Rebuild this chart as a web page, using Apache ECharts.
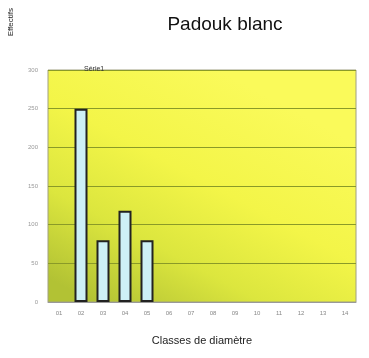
<!DOCTYPE html>
<html><head><meta charset="utf-8">
<script src="https://cdn.jsdelivr.net/npm/echarts@6/dist/echarts.min.js"></script>
<style>html,body{margin:0;padding:0;background:#fff}#c{width:369px;height:358px}</style>
</head><body><div id="c"></div>
<script>
const categories = ["01","02","03","04","05","06","07","08","09","10","11","12","13","14"];
const values = [null, 250, 80, 118, 80, null, null, null, null, null, null, null, null, null];
const seriesName = "Série1";
const titleText = "Padouk blanc";
const xName = "Classes de diamètre";
const yName = "Effectifs";

const chart = echarts.init(document.getElementById('c'));
chart.setOption({
  animation: false,
  backgroundColor: '#fff',
  title: { text: titleText, left: 220, top: 10, textAlign: 'center',
    textStyle: { fontFamily: 'Liberation Sans', fontWeight: 'normal', fontSize: 19, color: '#111' } },
  legend: { data: [seriesName], left: 78, top: 66, itemWidth: 0, itemHeight: 0, padding: 0,
    textStyle: { fontSize: 7, color: '#333' } },
  graphic: [{ type: 'text', left: 7, top: 8, rotation: Math.PI / 2,
    style: { text: yName, fontSize: 8, fill: '#222' } }],
  grid: { left: 48, right: 13, top: 70, bottom: 56,
    show: true, borderColor: '#a0a080', borderWidth: 1,
    backgroundColor: new echarts.graphic.LinearGradient(0.15, 1, 0.55, 0, [
      { offset: 0, color: '#b2c234' },
      { offset: 0.3, color: '#dce63e' },
      { offset: 0.6, color: '#f3f548' },
      { offset: 1, color: '#fafa5a' }
    ]) },
  xAxis: { type: 'category', data: categories, name: xName, nameLocation: 'middle', nameGap: 33,
    nameTextStyle: { fontFamily: 'Liberation Sans', fontSize: 11, color: '#222' },
    axisLine: { lineStyle: { color: '#999' } }, axisTick: { show: false },
    axisLabel: { fontSize: 6, color: '#888', margin: 8 } },
  yAxis: { type: 'value', min: 0, max: 300, interval: 50,
    axisLine: { show: false }, axisTick: { show: false },
    axisLabel: { fontSize: 6, color: '#999', margin: 10 },
    splitLine: { lineStyle: { color: '#8a9a28', width: 1 } } },
  series: [{ name: seriesName, type: 'bar', data: values, barWidth: 13,
    itemStyle: { color: '#cdf0f6', borderColor: '#222', borderWidth: 2 } }]
});
</script></body></html>
